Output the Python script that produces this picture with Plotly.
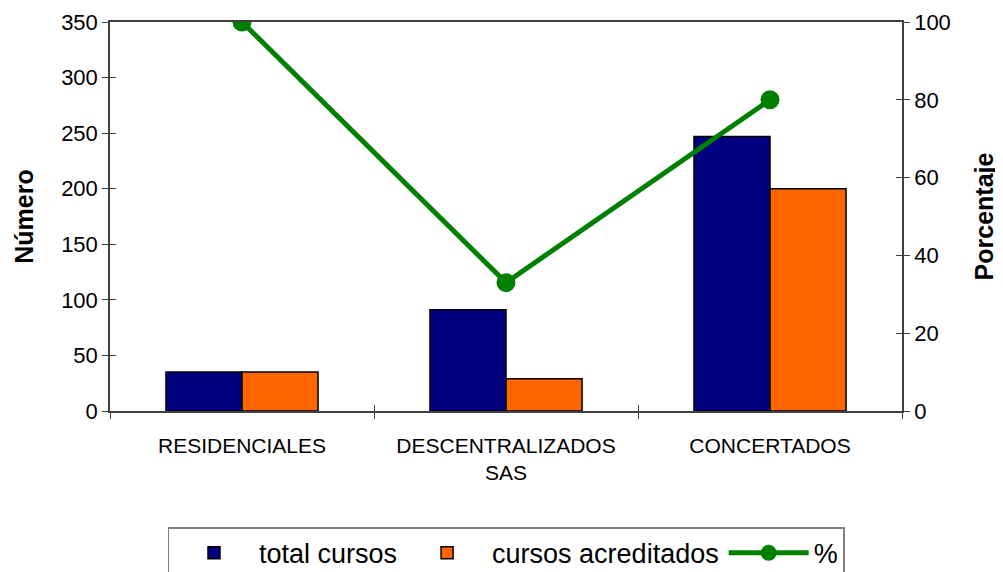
import plotly.graph_objects as go

categories = ["RESIDENCIALES", "DESCENTRALIZADOS<br>SAS", "CONCERTADOS"]
total_cursos = [35, 91, 247]
cursos_acreditados = [35, 29, 200]
porcentaje = [100, 33, 80]

FONT = "Liberation Sans, Arial, sans-serif"

fig = go.Figure()
fig.add_trace(go.Bar(x=categories, y=total_cursos, name="total cursos",
                     marker=dict(color="#000080", line=dict(color="black", width=1.5))))
fig.add_trace(go.Bar(x=categories, y=cursos_acreditados, name="cursos acreditados",
                     marker=dict(color="#FF6600", line=dict(color="black", width=1.5))))
fig.add_trace(go.Scatter(x=categories, y=porcentaje, name="%", yaxis="y2",
                         mode="lines+markers",
                         line=dict(color="#008000", width=5),
                         marker=dict(color="#008000", size=19)))

axis_common = dict(showgrid=False, zeroline=False, linecolor="#404040", linewidth=1.5,
                   tickcolor="#404040", ticklen=6, tickwidth=1.2)

# page body has an 8px margin: size the figure so it fills the 1003x572 window
fig.update_layout(
    width=995, height=564,
    margin=dict(l=102, r=101, t=14, b=161, autoexpand=False),
    paper_bgcolor="white", plot_bgcolor="white",
    font=dict(family=FONT, size=22, color="black"),
    barmode="group", bargap=0.424, bargroupgap=0,
    showlegend=True,
    legend=dict(orientation="h", x=0.5, xanchor="center", y=-0.299, yanchor="top",
                bordercolor="#808080", borderwidth=1.5, font=dict(size=27),
                traceorder="normal", itemwidth=80),
    xaxis=dict(type="category", showline=True, mirror=True, ticks="outside",
               tickson="boundaries", tickfont=dict(size=21), ticklabelstandoff=15,
               **axis_common),
    xaxis2=dict(type="category", overlaying="x", side="bottom", showline=False,
                ticks="inside", tickson="boundaries", showticklabels=False,
                matches="x", **axis_common),
    yaxis=dict(range=[0, 350], dtick=50, showline=True, ticks="outside",
               tickfont=dict(size=22),
               title=dict(text="<b>Número</b>", font=dict(size=25), standoff=20),
               **axis_common),
    yaxis2=dict(range=[0, 100], dtick=20, overlaying="y", side="right", showline=True,
                ticks="outside", tickfont=dict(size=22),
                title=dict(text="<b>Porcentaje</b>", font=dict(size=25), standoff=26),
                **axis_common),
    yaxis3=dict(range=[0, 350], dtick=50, overlaying="y", side="left", showline=False,
                ticks="inside", showticklabels=False, **axis_common),
    yaxis4=dict(range=[0, 100], dtick=20, overlaying="y", side="right", showline=False,
                ticks="inside", showticklabels=False, **axis_common),
)

# invisible helper traces so that the inside-tick axes render
fig.add_trace(go.Scatter(x=categories, y=total_cursos, yaxis="y3", mode="none",
                         showlegend=False, hoverinfo="skip"))
fig.add_trace(go.Scatter(x=categories, y=porcentaje, yaxis="y4", mode="none",
                         showlegend=False, hoverinfo="skip"))
fig.add_trace(go.Scatter(x=categories, y=total_cursos, xaxis="x2", yaxis="y3", mode="none",
                         showlegend=False, hoverinfo="skip"))

fig.write_html("out.html")
